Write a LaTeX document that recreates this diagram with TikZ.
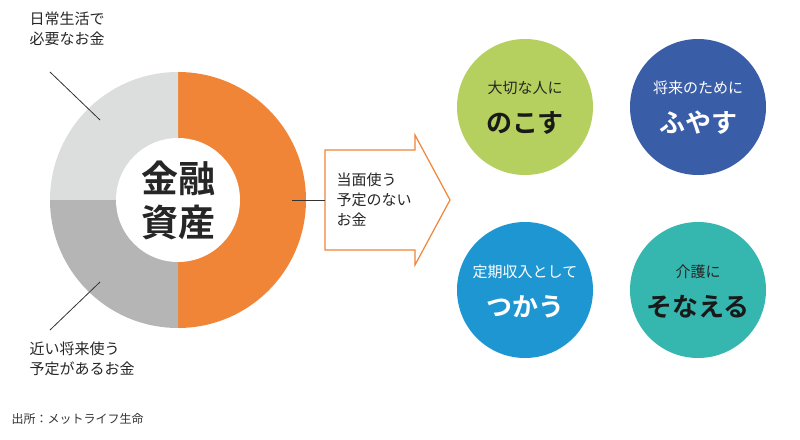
\documentclass[tikz,border=0pt]{standalone}
\usepackage{fontspec}
\setmainfont{Noto Sans CJK JP}
\newfontfamily\cjkb{Noto Sans CJK JP Bold}
\begin{document}
\begin{tikzpicture}[x=1pt,y=-1pt,
  lbl/.style={font=\fontsize{15}{20}\selectfont, align=left, text=black!85},
  circ/.style={circle, minimum size=136pt, inner sep=0pt, align=center, text=white}]
\definecolor{corange}{HTML}{F08537}
\definecolor{clgray}{HTML}{DCDDDD}
\definecolor{cgray}{HTML}{B5B5B5}
\definecolor{cgreen}{HTML}{B5D05E}
\definecolor{cblue}{HTML}{3A5DA8}
\definecolor{csky}{HTML}{1E96D2}
\definecolor{cteal}{HTML}{35B7B0}
\useasboundingbox (0,0) rectangle (800,439);
\coordinate (c) at (178,200);
\fill[corange] (c) -- ++(0,-128) arc[start angle=-90,end angle=90,radius=128] -- cycle;
\fill[clgray] (c) -- ++(0,-128) arc[start angle=-90,end angle=-180,radius=128] -- cycle;
\fill[cgray] (c) -- ++(-128,0) arc[start angle=180,end angle=90,radius=128] -- cycle;
\fill[white] (c) circle[radius=62];
\node[font=\cjkb\fontsize{37}{44}\selectfont, align=center, text=black!85] (center) at (c) {金融\\資産};
\node[lbl, anchor=north west] (l1) at (26,8) {日常生活で\\必要なお金};
\node[lbl, anchor=north west] (l2) at (26,338) {近い将来使う\\予定があるお金};
\coordinate (p1a) at (50,72); \coordinate (p1b) at (100,120);
\coordinate (p2a) at (50,330); \coordinate (p2b) at (100,282);
\draw[black!80, line width=0.8] (p1a) -- (p1b);
\draw[black!80, line width=0.8] (p2a) -- (p2b);
\draw[corange, line width=1.2, fill=white] (325,150) -- (415,150) -- (415,135) -- (450,200) -- (415,265) -- (415,250) -- (325,250) -- cycle;
\coordinate (ar) at (325,200); \coordinate (or) at (292,200);
\draw[black!80, line width=0.8] (or) -- (ar);
\node[lbl, anchor=west] (at) at (333,200) {当面使う\\予定のない\\お金};
\node[circ, fill=cgreen] (g1) at (525,107) {};
\node[circ, fill=cblue] (g2) at (698,107) {};
\node[circ, fill=csky] (g3) at (525,290) {};
\node[circ, fill=cteal] (g4) at (698,290) {};
\node[font=\fontsize{15}{18}\selectfont, text=black!85] at (525,88) {大切な人に};
\node[font=\cjkb\fontsize{26}{30}\selectfont, text=black!90] at (525,123) {のこす};
\node[font=\fontsize{15}{18}\selectfont, text=white] at (698,88) {将来のために};
\node[font=\cjkb\fontsize{26}{30}\selectfont, text=white] at (698,123) {ふやす};
\node[font=\fontsize{15}{18}\selectfont, text=white] at (525,272) {定期収入として};
\node[font=\cjkb\fontsize{26}{30}\selectfont, text=white] at (525,307) {つかう};
\node[font=\fontsize{15}{18}\selectfont, text=black!85] at (698,272) {介護に};
\node[font=\cjkb\fontsize{26}{30}\selectfont, text=black!90] at (698,307) {そなえる};
\node[font=\fontsize{12}{14}\selectfont, text=black!80, anchor=west] (src) at (8,419) {出所：メットライフ生命};
\end{tikzpicture}
\end{document}
